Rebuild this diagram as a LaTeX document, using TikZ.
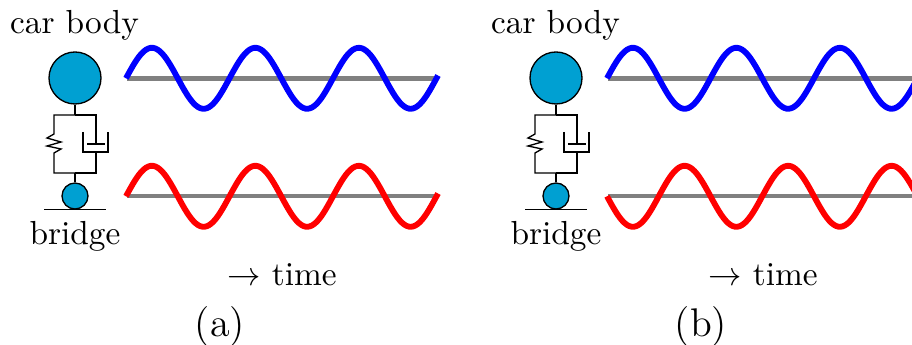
\documentclass[tikz,border=0pt]{standalone}
\usepackage{amssymb}
\definecolor{bodyblue}{RGB}{0,160,210}
\colorlet{axisgray}{black!50}
\tikzset{
  mass/.style={circle, draw=black, line width=0.4pt, fill=bodyblue, inner sep=0pt},
  link/.style={line width=0.4pt, black},
  wave/.style={line width=1.75pt},
  axisline/.style={line width=1.3pt, axisgray},
  label/.style={inner sep=0pt}
}

\begin{document}
\begin{tikzpicture}[x=0.3pt, y=-0.3pt]
  \useasboundingbox (0,0) rectangle (912,345);
  \clip (0,0) rectangle (912,345);
\foreach \panel/\offset/\sgn/\tagtext in {a/0/1/{(a)}, b/481/-1/{(b)}} {
  \begin{scope}[xshift=\offset*0.3pt]
  \node[label] (carlabel\panel) at (74.500,25) {car body};
  \node[mass, minimum size=15.6pt] (car\panel) at (75,78) {};
  \node[mass, minimum size=7.8pt] (wheel\panel) at (75,196) {};
  \node[label] (bridgelabel\panel) at (75,236) {bridge};
  \node[label] (timelabel\panel) at (282,275) {$\rightarrow$ time};
  \node[label, font=\large] (tag\panel) at (220,327) {\tagtext};
  \coordinate (top\panel) at (75,115);
  \coordinate (bot\panel) at (75,173);
  \draw[link] (car\panel) -- (top\panel);
  \draw[link] (bot\panel) -- (wheel\panel);
  \draw[link] (44,209.500) -- (106,209.500);
  % spring side
  \draw[link] (top\panel) -- (54,115) -- (54,134) -- (47,138) -- (61,142) -- (47,146) -- (61,149) -- (54,153) -- (54,173) -- (bot\panel);
  % damper side
  \draw[link] (top\panel) -- (96,115) -- (96,144);
  \draw[link] (87,144) -- (105,144);
  \draw[link] (83,132) -- (83,152) -- (108,152) -- (108,132);
  \draw[link] (96,152) -- (96,173) -- (bot\panel);
  % signals
  \draw[axisline] (127,78.500) -- (438,78.500);
  \draw[axisline] (127,196.300) -- (438,196.300);
  \draw[wave, blue] plot[domain=126:438, samples=140] (\x,{78.3-30.5*sin((\x-126)/103.5*360)});
  \draw[wave, red] plot[domain=126:438, samples=140] (\x,{196.3-\sgn*30.5*sin((\x-126)/103.5*360)});
  \end{scope}
}
\end{tikzpicture}
\end{document}
